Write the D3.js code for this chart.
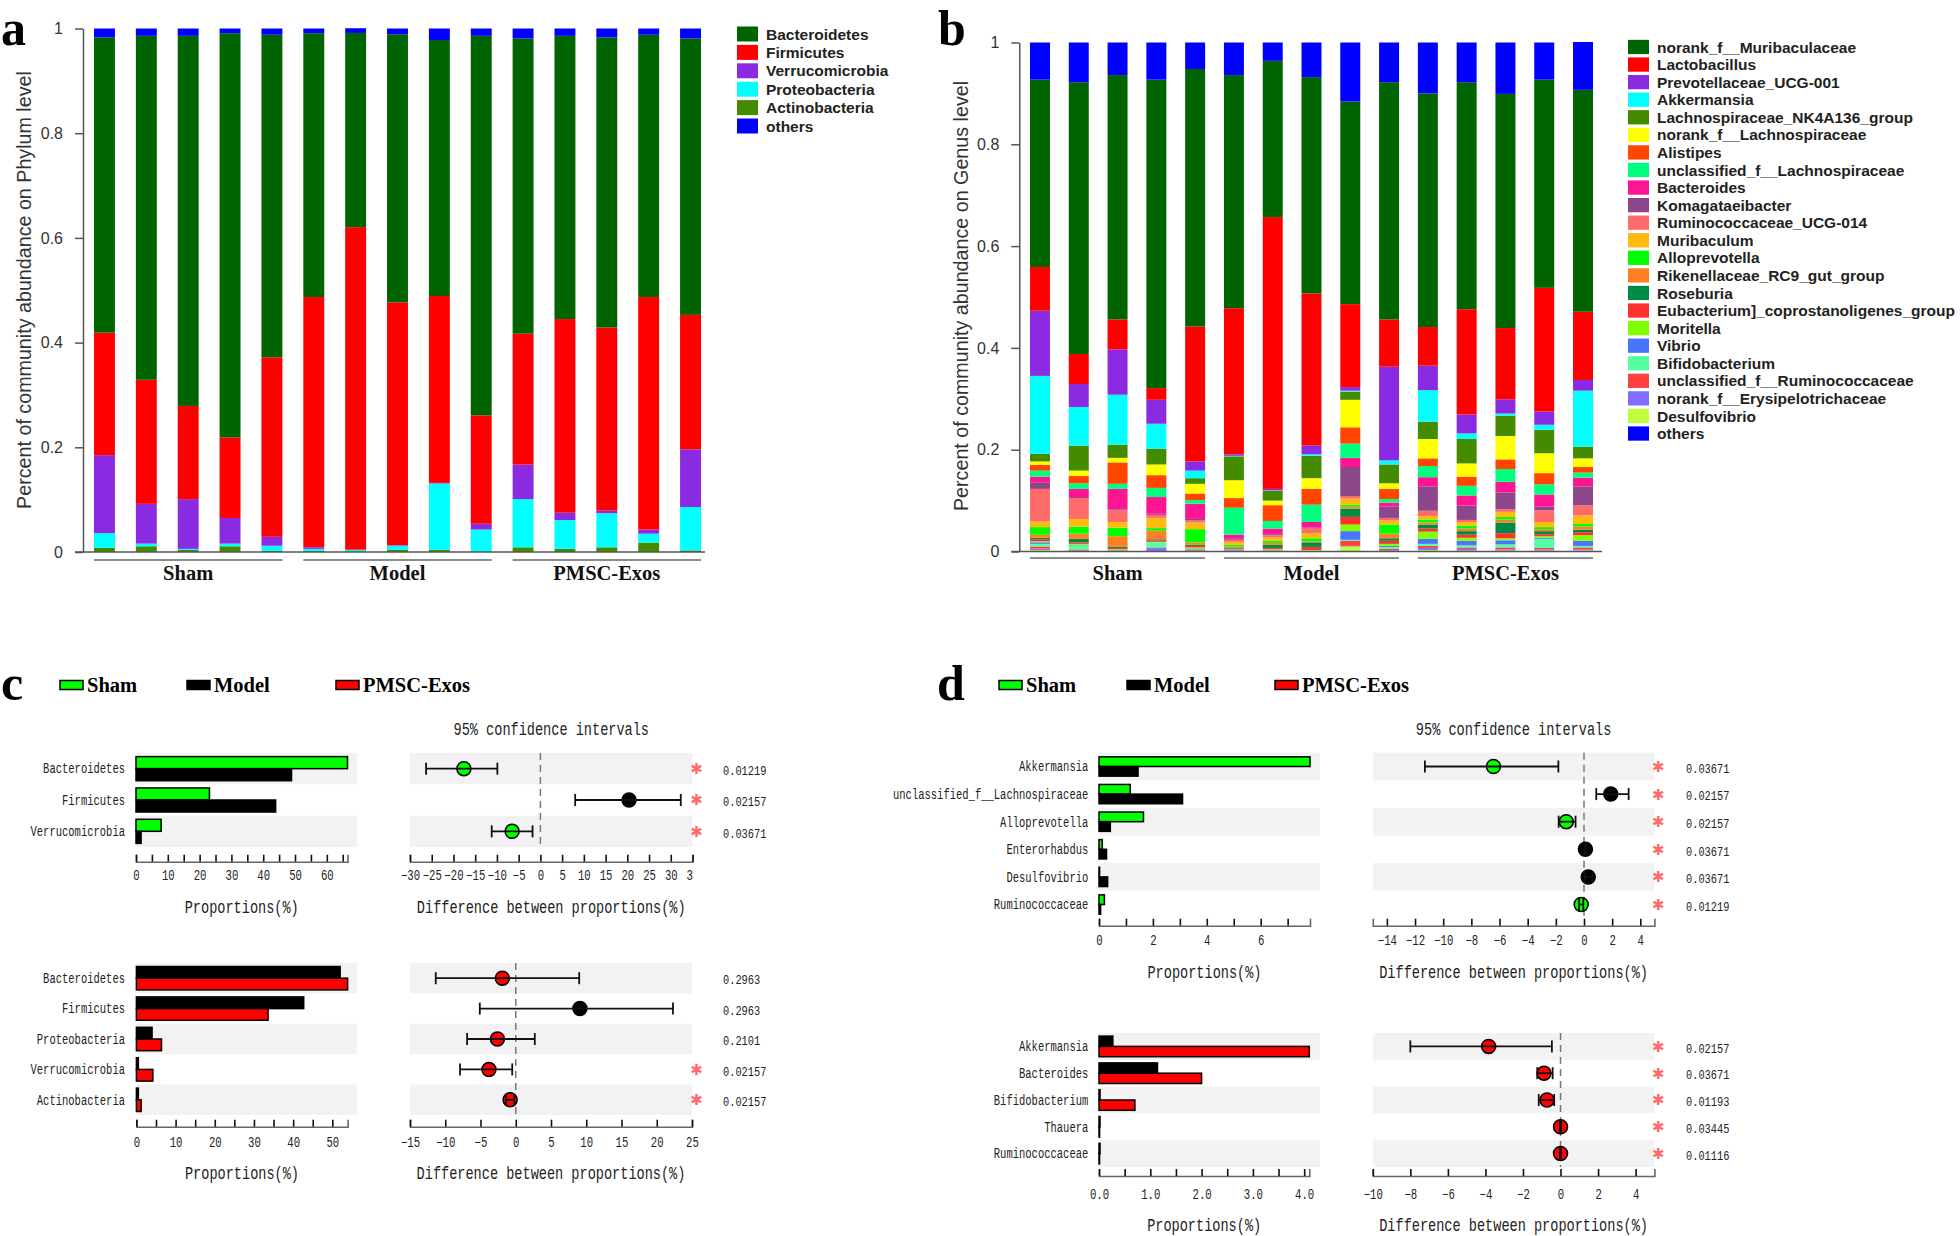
<!DOCTYPE html>
<html><head><meta charset="utf-8">
<script src="https://cdn.jsdelivr.net/npm/d3@7"></script>
<style>body{margin:0;background:#fff}</style>
</head><body>
<svg id="fig" width="1960" height="1236"></svg>
<script>
// ---------------- DATA ----------------
const groups = ["Sham", "Model", "PMSC-Exos"];
const samples = ["Sham1","Sham2","Sham3","Sham4","Sham5","Model1","Model2","Model3","Model4","Model5","PMSC1","PMSC2","PMSC3","PMSC4","PMSC5"];
const sampleGroup = ["Sham","Sham","Sham","Sham","Sham","Model","Model","Model","Model","Model","PMSC-Exos","PMSC-Exos","PMSC-Exos","PMSC-Exos","PMSC-Exos"];

// Panel a: phylum level (fraction of community), legend order
const phylumNames = ["Bacteroidetes","Firmicutes","Verrucomicrobia","Proteobacteria","Actinobacteria","others"];
const phylumBacteroidetes   = [0.564,0.657,0.707,0.772,0.616,0.504,0.371,0.512,0.489,0.725,0.564,0.541,0.554,0.501,0.528];
const phylumFirmicutes      = [0.234,0.237,0.178,0.154,0.343,0.478,0.616,0.464,0.357,0.207,0.250,0.370,0.350,0.444,0.257];
const phylumVerrucomicrobia = [0.149,0.076,0.095,0.049,0.017,0.003,0.0005,0.001,0.001,0.011,0.066,0.014,0.005,0.008,0.110];
const phylumProteobacteria  = [0.028,0.005,0.002,0.005,0.010,0.004,0.003,0.008,0.127,0.042,0.092,0.055,0.065,0.017,0.083];
const phylumActinobacteria  = [0.008,0.011,0.004,0.011,0.002,0.002,0.001,0.004,0.004,0.001,0.009,0.006,0.009,0.018,0.003];
const phylumOthers          = [0.017,0.014,0.014,0.009,0.012,0.009,0.009,0.011,0.022,0.014,0.019,0.014,0.017,0.012,0.019];
const phylumColors = ["#006400","#FF0000","#8A2BE2","#00FFFF","#458B00","#0000FF"];

// Panel b: genus level, legend order
const genusNames = ["norank_f__Muribaculaceae","Lactobacillus","Prevotellaceae_UCG-001","Akkermansia","Lachnospiraceae_NK4A136_group","norank_f__Lachnospiraceae","Alistipes","unclassified_f__Lachnospiraceae","Bacteroides","Komagataeibacter","Ruminococcaceae_UCG-014","Muribaculum","Alloprevotella","Rikenellaceae_RC9_gut_group","Roseburia","Eubacterium]_coprostanoligenes_group","Moritella","Vibrio","Bifidobacterium","unclassified_f__Ruminococcaceae","norank_f__Erysipelotrichaceae","Desulfovibrio","others"];
const genusColors = ["#006400","#FF0000","#8A2BE2","#00FFFF","#458B00","#FFFF00","#FF4500","#00FF7F","#FF1493","#8B4789","#FF6A6A","#FFB90F","#00FF00","#FF7F24","#008B45","#FF3030","#7FFF00","#4876FF","#54FF9F","#FF4040","#836FFF","#C0FF3E","#0000FF"];
const genusSham1  = [0.368,0.086,0.128,0.153,0.015,0.007,0.011,0.012,0.011,0.013,0.064,0.011,0.015,0.006,0.003,0.004,0.002,0.003,0.005,0.004,0.003,0.003,0.073];
const genusSham2  = [0.534,0.059,0.045,0.076,0.049,0.010,0.015,0.011,0.016,0.002,0.041,0.015,0.014,0.010,0.007,0.003,0.002,0.001,0.008,0.002,0.001,0.001,0.078];
const genusSham3  = [0.480,0.059,0.089,0.098,0.026,0.009,0.042,0.010,0.040,0.002,0.023,0.011,0.017,0.021,0.002,0.002,0.001,0.001,0.001,0.001,0.001,0.000,0.064];
const genusSham4  = [0.606,0.023,0.047,0.049,0.031,0.021,0.025,0.018,0.033,0.002,0.006,0.020,0.005,0.017,0.002,0.003,0.001,0.000,0.010,0.001,0.007,0.000,0.073];
const genusSham5  = [0.506,0.265,0.018,0.015,0.011,0.019,0.013,0.007,0.030,0.003,0.004,0.013,0.026,0.005,0.002,0.003,0.003,0.001,0.001,0.001,0.001,0.001,0.052];
const genusModel1 = [0.458,0.287,0.003,0.001,0.047,0.035,0.019,0.053,0.008,0.002,0.004,0.006,0.003,0.002,0.002,0.002,0.001,0.001,0.001,0.001,0.000,0.000,0.064];
const genusModel2 = [0.307,0.534,0.003,0.001,0.019,0.009,0.031,0.015,0.011,0.002,0.004,0.007,0.004,0.004,0.006,0.002,0.001,0.001,0.001,0.001,0.001,0.000,0.036];
const genusModel3 = [0.425,0.299,0.017,0.003,0.044,0.021,0.031,0.034,0.011,0.001,0.010,0.010,0.006,0.002,0.009,0.006,0.001,0.000,0.001,0.001,0.000,0.000,0.068];
const genusModel4 = [0.398,0.163,0.007,0.002,0.016,0.054,0.032,0.028,0.018,0.057,0.005,0.012,0.004,0.004,0.016,0.015,0.013,0.017,0.002,0.010,0.001,0.010,0.116];
const genusModel5 = [0.466,0.093,0.184,0.008,0.037,0.011,0.020,0.007,0.008,0.022,0.005,0.008,0.018,0.009,0.005,0.006,0.004,0.002,0.004,0.003,0.001,0.001,0.078];
const genusPMSC1  = [0.459,0.076,0.048,0.062,0.034,0.038,0.015,0.022,0.018,0.048,0.010,0.007,0.006,0.004,0.008,0.006,0.014,0.010,0.004,0.004,0.004,0.003,0.100];
const genusPMSC2  = [0.446,0.207,0.037,0.011,0.048,0.026,0.018,0.019,0.020,0.028,0.004,0.007,0.006,0.005,0.007,0.006,0.006,0.009,0.004,0.003,0.003,0.002,0.078];
const genusPMSC3  = [0.460,0.140,0.028,0.004,0.040,0.046,0.019,0.025,0.021,0.033,0.005,0.010,0.005,0.006,0.021,0.010,0.004,0.008,0.006,0.004,0.002,0.002,0.101];
const genusPMSC4  = [0.409,0.243,0.026,0.010,0.046,0.039,0.022,0.020,0.024,0.007,0.023,0.010,0.004,0.004,0.006,0.004,0.003,0.002,0.018,0.003,0.002,0.002,0.073];
const genusPMSC5  = [0.436,0.134,0.021,0.110,0.023,0.017,0.011,0.010,0.017,0.037,0.020,0.017,0.005,0.006,0.005,0.006,0.011,0.010,0.003,0.004,0.002,0.002,0.094];

// Panels c / d: group colours
const groupColors = {"Sham":"#00FF00","Model":"#000000","PMSC-Exos":"#FF0000"};

// c top: Sham vs Model (phylum)
const cTopRows = ["Bacteroidetes","Firmicutes","Verrucomicrobia"];
const cTopSham = [66.5, 23.1, 7.9];
const cTopModel = [48.9, 43.9, 1.6];
const cTopDiff = [-17.6, 20.4, -6.5];
const cTopLow  = [-26.3, 8.0, -11.2];
const cTopHigh = [-9.9, 32.3, -1.8];
const cTopWinner = ["Sham","Model","Sham"];
const cTopP = ["0.01219","0.02157","0.03671"];
const cTopSig = [true, true, true];
const cTopPropTicks = [0,5,10,15,20,25,30,35,40,45,50,55,60,65];
const cTopPropLabels = [0,10,20,30,40,50,60];
const cTopCITicks = [-30,-25,-20,-15,-10,-5,0,5,10,15,20,25,30,35];

// c bottom: Model vs PMSC-Exos (phylum)
const cBotRows = ["Bacteroidetes","Firmicutes","Proteobacteria","Verrucomicrobia","Actinobacteria"];
const cBotModel = [52.0, 42.7, 4.0, 0.5, 0.5];
const cBotPMSC  = [53.9, 33.6, 6.4, 4.2, 1.2];
const cBotDiff = [-1.9, 9.1, -2.6, -3.8, -0.8];
const cBotLow  = [-11.35, -5.1, -6.9, -7.9, -1.4];
const cBotHigh = [9.0, 22.3, 2.7, -0.5, -0.2];
const cBotWinner = ["PMSC-Exos","Model","PMSC-Exos","PMSC-Exos","PMSC-Exos"];
const cBotP = ["0.2963","0.2963","0.2101","0.02157","0.02157"];
const cBotSig = [false, false, false, true, true];
const cBotPropTicks = [0,5,10,15,20,25,30,35,40,45,50];
const cBotPropLabels = [0,10,20,30,40,50];
const cBotCITicks = [-15,-10,-5,0,5,10,15,20,25];

// d top: Sham vs Model (genus)
const dTopRows = ["Akkermansia","unclassified_f__Lachnospiraceae","Alloprevotella","Enterorhabdus","Desulfovibrio","Ruminococcaceae"];
const dTopSham  = [7.83, 1.16, 1.65, 0.12, 0.02, 0.20];
const dTopModel = [1.45, 3.10, 0.42, 0.28, 0.32, 0.06];
const dTopDiff = [-6.43, 1.90, -1.26, 0.10, 0.30, -0.20];
const dTopLow  = [-11.3, 0.87, -1.80, 0.05, 0.05, -0.35];
const dTopHigh = [-1.82, 3.17, -0.60, 0.15, 0.60, -0.05];
const dTopWinner = ["Sham","Model","Sham","Model","Model","Sham"];
const dTopP = ["0.03671","0.02157","0.02157","0.03671","0.03671","0.01219"];
const dTopSig = [true, true, true, true, true, true];
const dTopPropTicks = [0,1,2,3,4,5,6,7];
const dTopPropLabels = [0,2,4,6];
const dTopCITicks = [-14,-12,-10,-8,-6,-4,-2,0,2,4];

// d bottom: Model vs PMSC-Exos (genus)
const dBotRows = ["Akkermansia","Bacteroides","Bifidobacterium","Thauera","Ruminococcaceae"];
const dBotModel = [0.27, 1.14, 0.02, 0.02, 0.02];
const dBotPMSC  = [4.10, 2.00, 0.70, 0.00, 0.00];
const dBotDiff = [-3.83, -0.88, -0.72, 0.0, 0.0];
const dBotLow  = [-8.0, -1.24, -1.16, -0.03, -0.03];
const dBotHigh = [-0.46, -0.42, -0.34, 0.03, 0.03];
const dBotWinner = ["PMSC-Exos","PMSC-Exos","PMSC-Exos","PMSC-Exos","PMSC-Exos"];
const dBotP = ["0.02157","0.03671","0.01193","0.03445","0.01116"];
const dBotSig = [true, true, true, true, true];
const dBotPropTicks = [0,0.5,1,1.5,2,2.5,3,3.5,4];
const dBotPropLabels = [0,1,2,3,4];
const dBotCITicks = [-10,-8,-6,-4,-2,0,2,4];

// ---------------- DRAWING ----------------
const svg = d3.select("#fig");
const SERIF = "'Liberation Serif','Times New Roman',serif";
const SANS = "'Liberation Sans',Arial,sans-serif";
const MONO = "'Liberation Mono','Courier New',monospace";
const SIM_SX = 0.765;   // emulate narrow SimSun latin glyphs

function simText(parent, x, y, str, F, anchor, fill) {
  const g = parent.append("g").attr("transform", `translate(${x},${y})`);
  return g.append("text").attr("transform", `scale(${SIM_SX},1)`)
    .attr("font-family", MONO).attr("font-size", F * 1.09)
    .attr("text-anchor", anchor || "start").attr("dy", "0.35em")
    .attr("fill", fill || "#222").text(str);
}
function panelLetter(x, y, s) {
  svg.append("text").attr("x", x).attr("y", y).attr("font-family", SERIF)
    .attr("font-weight", "bold").attr("font-size", 50).attr("fill", "#000").text(s);
}

function drawStacked(o) {
  const g = svg.append("g");
  const rows = o.samples.map((s, i) => {
    const r = {sample: s};
    o.names.forEach((n, k) => r[n] = o.value(i, k));
    return r;
  });
  const colorOf = d3.scaleOrdinal().domain(o.names).range(o.colors);
  const x = d3.scaleBand().domain(o.samples).range(o.xRange).paddingInner(o.padInner).paddingOuter(0);
  const y = d3.scaleLinear().domain([0, 1]).range(o.yRange);
  const series = d3.stack().keys(o.stackOrder)(rows);
  g.selectAll("g.layer").data(series).join("g").attr("class", "layer")
    .attr("fill", d => colorOf(d.key))
    .selectAll("rect").data(d => d).join("rect")
    .attr("x", d => x(d.data.sample)).attr("width", x.bandwidth())
    .attr("y", d => y(d[1])).attr("height", d => Math.max(0, y(d[0]) - y(d[1])));

  const yAxis = d3.axisLeft(y).tickValues([0, 0.2, 0.4, 0.6, 0.8, 1]).tickFormat(d3.format("~g"))
    .tickSize(8).tickSizeOuter(0).tickPadding(12);
  const yg = g.append("g").attr("transform", `translate(${o.axisX},0)`).call(yAxis);
  yg.select(".domain").attr("stroke", "#555").attr("stroke-width", 1.5);
  yg.selectAll(".tick line").attr("stroke", "#555").attr("stroke-width", 1.5);
  yg.selectAll("text").attr("font-family", SANS).attr("font-size", 16).attr("fill", "#333");

  g.append("line").attr("x1", o.axisX - 8).attr("x2", o.xAxisEnd)
    .attr("y1", y(0)).attr("y2", y(0)).attr("stroke", "#555").attr("stroke-width", 1.5);

  o.groups.forEach(gr => {
    const members = o.samples.filter((s, i) => o.sampleGroup[i] === gr);
    const xs = x(members[0]), xe = x(members[members.length - 1]) + x.bandwidth();
    g.append("line").attr("x1", xs).attr("x2", xe).attr("y1", o.groupLineY).attr("y2", o.groupLineY)
      .attr("stroke", "#666").attr("stroke-width", 1.5);
    g.append("text").attr("x", (xs + xe) / 2).attr("y", o.groupLabelY).attr("text-anchor", "middle")
      .attr("font-family", SERIF).attr("font-weight", "bold").attr("font-size", 20.5).attr("fill", "#111").text(gr);
  });

  g.append("text").attr("transform", `translate(${o.titleX},${o.titleY}) rotate(-90)`)
    .attr("text-anchor", "middle").attr("dy", "0.35em")
    .attr("font-family", SANS).attr("font-size", 19.7).attr("fill", "#333").text(o.title);

  const ly = d3.scaleBand().domain(o.names).range([o.legY0, o.legY0 + o.names.length * o.legStep]);
  const lg = g.append("g");
  lg.selectAll("rect").data(o.names).join("rect")
    .attr("x", o.legX).attr("y", d => ly(d) + (o.legStep - o.legH) / 2)
    .attr("width", 21).attr("height", o.legH).attr("fill", d => colorOf(d));
  lg.selectAll("text").data(o.names).join("text")
    .attr("x", o.legX + 29).attr("y", d => ly(d) + o.legStep / 2).attr("dy", "0.36em")
    .attr("font-family", SANS).attr("font-weight", "bold").attr("font-size", 15.5).attr("fill", "#222")
    .text(d => d);
}

// Panel a
const phylumArrays = [phylumBacteroidetes, phylumFirmicutes, phylumVerrucomicrobia, phylumProteobacteria, phylumActinobacteria, phylumOthers];
drawStacked({
  samples, sampleGroup, groups, names: phylumNames, colors: phylumColors,
  value: (i, k) => phylumArrays[k][i],
  stackOrder: phylumNames.slice(0, 5).reverse().concat(["others"]),
  xRange: [94, 701], padInner: 0.5, yRange: [552, 28.5], axisX: 83, xAxisEnd: 705,
  groupLineY: 560, groupLabelY: 580,
  title: "Percent of community abundance on Phylum level", titleX: 24, titleY: 290,
  legX: 737, legY0: 24.8, legStep: 18.4, legH: 15
});
panelLetter(1, 45, "a");

// Panel b
const genusBySample = [genusSham1, genusSham2, genusSham3, genusSham4, genusSham5, genusModel1, genusModel2, genusModel3, genusModel4, genusModel5, genusPMSC1, genusPMSC2, genusPMSC3, genusPMSC4, genusPMSC5];
drawStacked({
  samples, sampleGroup, groups, names: genusNames, colors: genusColors,
  value: (i, k) => genusBySample[i][k],
  stackOrder: genusNames.slice(0, 22).reverse().concat(["others"]),
  xRange: [1030, 1593], padInner: 0.485, yRange: [551.5, 42.5], axisX: 1019.3, xAxisEnd: 1602,
  groupLineY: 558, groupLabelY: 580,
  title: "Percent of community abundance on Genus level", titleX: 961, titleY: 296,
  legX: 1628, legY0: 38.2, legStep: 17.57, legH: 14.3
});
panelLetter(938, 45, "b");

// comparison panels
let clipId = 0;
function drawCompare(o) {
  const g = svg.append("g");
  const n = o.rows.length;
  const yRow = d3.scaleBand().domain(o.rows).range([o.y0, o.y0 + n * o.rowH]);
  const ySub = d3.scaleBand().domain([o.gA, o.gB]).range([0, o.rowH]).paddingOuter(o.subPad);
  const xP = d3.scaleLinear().domain([0, o.propMax]).range(o.propRange);
  const xC = d3.scaleLinear().domain(o.ciDomain).range(o.ciRange);
  const bandFill = "#F2F2F2";
  const even = o.rows.filter((r, i) => i % 2 === 0);
  g.selectAll("rect.bp").data(even).join("rect").attr("class", "bp")
    .attr("x", o.propRange[0]).attr("width", o.propBandEnd - o.propRange[0])
    .attr("y", r => yRow(r)).attr("height", yRow.bandwidth()).attr("fill", bandFill);
  g.selectAll("rect.bc").data(even).join("rect").attr("class", "bc")
    .attr("x", o.ciRange[0]).attr("width", o.ciRange[1] - o.ciRange[0])
    .attr("y", r => yRow(r)).attr("height", yRow.bandwidth()).attr("fill", bandFill);

  // proportion bars
  [[o.gA, o.valsA], [o.gB, o.valsB]].forEach(([grp, vals]) => {
    g.append("g").selectAll("rect").data(o.rows).join("rect")
      .attr("x", xP(0)).attr("y", r => yRow(r) + ySub(grp))
      .attr("width", (r, i) => Math.max(xP(vals[i]) - xP(0), 0.6)).attr("height", ySub.bandwidth())
      .attr("fill", groupColors[grp]).attr("stroke", "#000").attr("stroke-width", 1.5);
  });

  // row labels
  o.rows.forEach(r => simText(g, o.labelRight, yRow(r) + yRow.bandwidth() / 2, r, 12.6, "end"));

  // axes
  function styleAxis(ag) {
    ag.select(".domain").attr("stroke", "#666").attr("stroke-width", 1.6);
    ag.selectAll(".tick line").attr("stroke", "#111").attr("stroke-width", 1.6);
    ag.selectAll("text").attr("y", o.tickLabelOffset).attr("dy", "0.35em")
      .attr("transform", `scale(${SIM_SX},1)`).attr("font-family", MONO)
      .attr("font-size", 12.8 * 1.09).attr("fill", "#222");
  }
  const pa = d3.axisBottom(xP).tickValues(o.propTicks)
    .tickFormat(d => o.propLabels.includes(d) ? o.propFmt(d) : "")
    .tickSize(-7).tickSizeOuter(-7).tickPadding(0);
  const pag = g.append("g").attr("transform", `translate(0,${o.axisY})`).call(pa);
  styleAxis(pag);

  const ca = d3.axisBottom(xC).tickValues(o.ciTicks).tickFormat(d3.format("d"))
    .tickSize(-7).tickSizeOuter(-7).tickPadding(0);
  const cWrap = g.append("g");
  if (o.ciAxisClip) {
    const id = "clip" + (clipId++);
    svg.append("clipPath").attr("id", id).append("rect")
      .attr("x", 0).attr("y", 0).attr("width", o.ciAxisClip).attr("height", 1236);
    cWrap.attr("clip-path", `url(#${id})`);
  }
  const cag = cWrap.append("g").attr("transform", `translate(0,${o.axisY})`).call(ca);
  styleAxis(cag);

  // zero dashed line
  g.append("line").attr("x1", xC(0)).attr("x2", xC(0))
    .attr("y1", yRow.range()[0]).attr("y2", yRow.range()[1])
    .attr("stroke", "#777").attr("stroke-width", 1.5).attr("stroke-dasharray", "7,5");

  // points with CI
  const cy = r => yRow(r) + yRow.bandwidth() / 2;
  const cap = 6;
  const pts = g.append("g");
  o.rows.forEach((r, i) => {
    const y = cy(r);
    pts.append("circle").attr("cx", xC(o.diff[i])).attr("cy", y).attr("r", 7)
      .attr("fill", groupColors[o.winner[i]]).attr("stroke", "#000").attr("stroke-width", 1.5);
    pts.append("line").attr("x1", xC(o.low[i])).attr("x2", xC(o.high[i])).attr("y1", y).attr("y2", y)
      .attr("stroke", "#111").attr("stroke-width", 1.8);
    [o.low[i], o.high[i]].forEach(v => pts.append("line").attr("x1", xC(v)).attr("x2", xC(v))
      .attr("y1", y - cap).attr("y2", y + cap).attr("stroke", "#111").attr("stroke-width", 1.8));
  });

  // significance stars and p values
  o.rows.forEach((r, i) => {
    if (o.sig[i]) g.append("text").attr("x", o.starX).attr("y", cy(r)).attr("dy", "0.36em")
      .attr("text-anchor", "middle").attr("font-family", "'DejaVu Sans',sans-serif")
      .attr("font-size", 15).attr("fill", "#FF6A6A").text("\u2731");
  });
  const pg = g.append("g");
  if (o.pClip) {
    const id = "clip" + (clipId++);
    svg.append("clipPath").attr("id", id).append("rect")
      .attr("x", 0).attr("y", 0).attr("width", o.pClip).attr("height", 1236);
    pg.attr("clip-path", `url(#${id})`);
  }
  o.rows.forEach((r, i) => simText(pg, o.pX, cy(r) + 1.5, o.p[i], 12.4, "start"));

  // titles
  simText(g, (o.propRange[0] + o.propRange[1]) / 2, o.titleY, "Proportions(%)", 16.3, "middle");
  simText(g, (o.ciRange[0] + o.ciRange[1]) / 2, o.titleY, "Difference between proportions(%)", 16.3, "middle");
  if (o.ciTitleY) simText(g, (o.ciRange[0] + o.ciRange[1]) / 2, o.ciTitleY, "95% confidence intervals", 16.3, "middle");
}

function drawGroupLegend(x0, y, offsets) {
  const lg = svg.append("g");
  groups.forEach((gr, i) => {
    lg.append("rect").attr("x", x0 + offsets[i]).attr("y", y - 4.5).attr("width", 23).attr("height", 9)
      .attr("fill", groupColors[gr]).attr("stroke", "#000").attr("stroke-width", 1.5);
    lg.append("text").attr("x", x0 + offsets[i] + 27).attr("y", y).attr("dy", "0.34em")
      .attr("font-family", SERIF).attr("font-weight", "bold").attr("font-size", 20.5).attr("fill", "#000").text(gr);
  });
}

// Panel c
panelLetter(1, 700, "c");
drawGroupLegend(60, 685, [0, 127, 276]);
drawCompare({
  rows: cTopRows, gA: "Sham", gB: "Model", valsA: cTopSham, valsB: cTopModel,
  diff: cTopDiff, low: cTopLow, high: cTopHigh, winner: cTopWinner, p: cTopP, sig: cTopSig,
  propMax: 66.5, propTicks: cTopPropTicks, propLabels: cTopPropLabels, propFmt: d3.format("d"),
  ciDomain: [-30, 35], ciTicks: cTopCITicks,
  y0: 753, rowH: 31.33, subPad: 0.3, propRange: [136, 347.5], propBandEnd: 357,
  ciRange: [410, 692.5], axisY: 861.7, tickLabelOffset: 13.5, titleY: 907, ciTitleY: 729,
  labelRight: 125, starX: 696.5, pX: 723, pClip: 766, ciAxisClip: 694
});
drawCompare({
  rows: cBotRows, gA: "Model", gB: "PMSC-Exos", valsA: cBotModel, valsB: cBotPMSC,
  diff: cBotDiff, low: cBotLow, high: cBotHigh, winner: cBotWinner, p: cBotP, sig: cBotSig,
  propMax: 53.9, propTicks: cBotPropTicks, propLabels: cBotPropLabels, propFmt: d3.format("d"),
  ciDomain: [-15, 25], ciTicks: cBotCITicks,
  y0: 963, rowH: 30.4, subPad: 0.3, propRange: [136.4, 347.6], propBandEnd: 357,
  ciRange: [410, 692], axisY: 1126.7, tickLabelOffset: 15, titleY: 1172.7,
  labelRight: 125, starX: 696.5, pX: 723
});

// Panel d
panelLetter(937, 700, "d");
drawGroupLegend(999, 685, [0, 128, 276]);
drawCompare({
  rows: dTopRows, gA: "Sham", gB: "Model", valsA: dTopSham, valsB: dTopModel,
  diff: dTopDiff, low: dTopLow, high: dTopHigh, winner: dTopWinner, p: dTopP, sig: dTopSig,
  propMax: 7.83, propTicks: dTopPropTicks, propLabels: dTopPropLabels, propFmt: d3.format("d"),
  ciDomain: [-15, 5], ciTicks: dTopCITicks,
  y0: 752.7, rowH: 27.6, subPad: 0.43, propRange: [1099, 1310], propBandEnd: 1320,
  ciRange: [1372.8, 1654.4], axisY: 925.7, tickLabelOffset: 14.3, titleY: 971.7, ciTitleY: 728.3,
  labelRight: 1088.3, starX: 1658.3, pX: 1686
});
drawCompare({
  rows: dBotRows, gA: "Model", gB: "PMSC-Exos", valsA: dBotModel, valsB: dBotPMSC,
  diff: dBotDiff, low: dBotLow, high: dBotHigh, winner: dBotWinner, p: dBotP, sig: dBotSig,
  propMax: 4.1, propTicks: dBotPropTicks, propLabels: dBotPropLabels, propFmt: d3.format(".1f"),
  ciDomain: [-10, 5], ciTicks: dBotCITicks,
  y0: 1033, rowH: 26.8, subPad: 0.3, propRange: [1099, 1309.3], propBandEnd: 1320,
  ciRange: [1372.8, 1654.4], axisY: 1176, tickLabelOffset: 18, titleY: 1225,
  labelRight: 1088.3, starX: 1658.3, pX: 1686
});
</script>
</body></html>
